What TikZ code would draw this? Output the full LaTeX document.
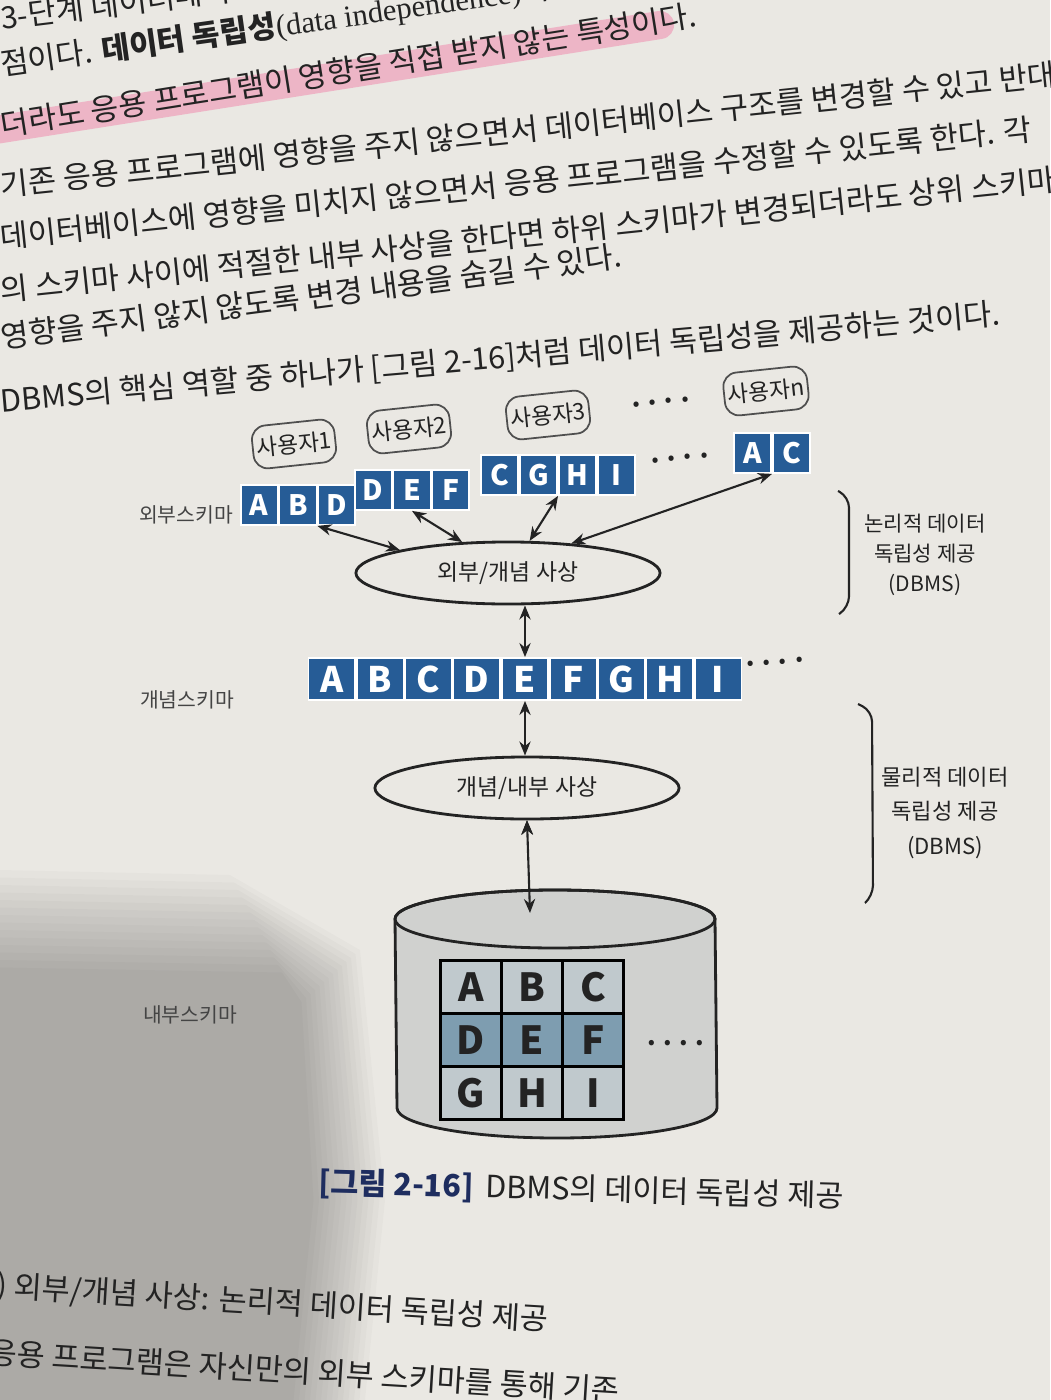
\documentclass[tikz,border=0pt]{standalone}
\usepackage{fontspec}
\setmainfont{Noto Sans CJK KR}
\newfontfamily\serifLatin{Liberation Serif}
\usetikzlibrary{matrix,arrows.meta,shapes.geometric}

\definecolor{paper}{RGB}{234,232,227}
\definecolor{ink}{RGB}{35,35,35}
\definecolor{schemablue}{RGB}{38,92,150}
\definecolor{gridlight}{RGB}{192,201,205}
\definecolor{griddark}{RGB}{126,157,176}
\definecolor{cylfill}{RGB}{208,209,207}
\definecolor{marker}{RGB}{240,140,175}
\definecolor{capnavy}{RGB}{30,45,95}

\tikzset{
  body/.style={anchor=west, inner sep=0pt, text=ink, font=\fontsize{8.7}{8.7}\selectfont},
  extcell/.style={fill=schemablue, draw=white, line width=0.5pt, text=white,
    font=\fontsize{8}{8}\selectfont\bfseries, minimum width=3.7mm, minimum height=4mm, inner sep=0pt},
  extrow/.style={matrix of nodes, transform shape, column sep=0pt, nodes={extcell}},
  concell/.style={extcell, font=\fontsize{10}{10}\selectfont\bfseries, minimum width=4.65mm, minimum height=4.2mm},
  conrow/.style={matrix of nodes, transform shape, column sep=0pt, nodes={concell}},
  tblgrid/.style={matrix of nodes, column sep=-0.8pt, row sep=-0.8pt,
    nodes={draw=black, line width=0.8pt, fill=gridlight, text=ink,
      font=\fontsize{11}{11}\selectfont\bfseries, minimum width=6.1mm, minimum height=5.3mm, inner sep=0pt},
    row 2/.style={nodes={fill=griddark}}},
  user/.style={draw=ink!80, line width=0.5pt, rounded corners=4pt, text=ink,
    font=\fontsize{6.5}{6.5}\selectfont, minimum width=8mm, minimum height=4.3mm, inner sep=1pt},
  mapping/.style={ellipse, draw=ink, line width=0.8pt, minimum width=3.04cm, minimum height=0.62cm,
    inner sep=0pt, text=ink, font=\fontsize{6.5}{6.5}\selectfont},
  schemalabel/.style={text=ink!85, font=\fontsize{5.8}{5.8}\selectfont, inner sep=0pt},
  dots/.style={text=ink, font=\fontsize{7}{7}\selectfont\bfseries, inner sep=0pt},
  sidenote/.style={align=center, text=ink, font=\fontsize{6}{8.6}\selectfont, inner sep=0pt},
  bracket/.style={draw=ink, line width=0.6pt, rounded corners=3pt},
  conn/.style={draw=ink, line width=0.6pt, {Stealth[length=4pt,width=3.2pt]}-{Stealth[length=4pt,width=3.2pt]}},
  figcap/.style={text=ink, font=\fontsize{8.7}{8.7}\selectfont, inner sep=0pt}
}

\begin{document}
\begin{tikzpicture}[x=0.01cm, y=-0.01cm]
  \fill[paper] (0,0) rectangle (1050,1400);
  \useasboundingbox (0,0) rectangle (1050,1400);
  \clip (0,0) rectangle (1050,1400);

  % soft shadow over the lower left of the page
  \foreach \k in {0,...,13}
    \fill[black, opacity=0.018] (0,870+7.5*\k) -- (230+4*\k,875+7.5*\k) -- (360-4.5*\k,950+4*\k)
      -- (385-5.5*\k,1200) -- (365-5.5*\k,1400) -- (0,1400) -- cycle;

  % page text above the figure
  \draw[marker, line width=8pt, line cap=round, opacity=0.55] (-5,130) -- (660,25);
  \node[body, rotate=7] (t1) at (0,18) {3-단계 데이터베이스};
  \node[body, rotate=8] (t2) at (0,66) {점이다. {\bfseries 데이터 독립성}{\serifLatin (data independence)}이란};
  \node[body, rotate=9] (t3) at (0,125) {더라도 응용 프로그램이 영향을 직접 받지 않는 특성이다.};
  \node[body, rotate=6] (t4) at (0,185) {기존 응용 프로그램에 영향을 주지 않으면서 데이터베이스 구조를 변경할 수 있고 반대로};
  \node[body, rotate=6] (t5) at (0,237) {데이터베이스에 영향을 미치지 않으면서 응용 프로그램을 수정할 수 있도록 한다. 각};
  \node[body, rotate=6] (t6) at (0,290) {의 스키마 사이에 적절한 내부 사상을 한다면 하위 스키마가 변경되더라도 상위 스키마};
  \node[body, rotate=7.5] (t7) at (0,337) {영향을 주지 않지 않도록 변경 내용을 숨길 수 있다.};
  \node[body, rotate=5] (t8) at (0,402) {DBMS의 핵심 역할 중 하나가 [그림 2-16]처럼 데이터 독립성을 제공하는 것이다.};

  % users and external schemas
  \node[user, rotate=6] (u1) at (294,444) {사용자1};
  \node[user, rotate=6] (u2) at (409,429) {사용자2};
  \node[user, rotate=6] (u3) at (548,415) {사용자3};
  \node[dots, rotate=6] (du) at (661,402) {. . . .};
  \node[user, rotate=6] (un) at (766,391) {사용자n};

  \node[schemalabel] (lext) at (186,515) {외부스키마};
  \matrix (e1) [extrow, rotate=6] at (298,505) {A & B & D \\};
  \matrix (e2) [extrow, rotate=6] at (412,490) {D & E & F \\};
  \matrix (e3) [extrow, rotate=6] at (558,475) {C & G & H & I \\};
  \node[dots, rotate=6] (de) at (680,458) {. . . .};
  \matrix (e4) [extrow, rotate=6] at (772,453) {A & C \\};

  \node[mapping] (extmap) at (508,573) {외부/개념 사상};

  % conceptual schema
  \node[schemalabel] (lcon) at (187,700) {개념스키마};
  \matrix (crow) [conrow, rotate=4.5] at (525,679) {A & B & C & D & E & F & G & H & I \\};
  \node[dots, rotate=4] (dc) at (775,662) {. . . .};

  \node[mapping] (intmap) at (527,788) {개념/내부 사상};

  % internal schema
  \node[schemalabel] (lint) at (190,1015) {내부스키마};
  \filldraw[fill=cylfill, draw=ink, line width=0.8pt] (395,919) -- (397,1108)
    arc[start angle=180, end angle=0, x radius=160, y radius=30] -- (715,919)
    arc[start angle=0, end angle=-180, x radius=160, y radius=29] -- cycle;
  \draw[ink, line width=0.8pt] (555,919) ellipse[x radius=160, y radius=29];
  \coordinate (dbtop) at (530,913);
  \matrix (tbl) [tblgrid] at (532,1040) {A & B & C \\ D & E & F \\ G & H & I \\};
  \node[dots] (dt) at (676,1043) {. . . .};

  \path[conn]
    (e1-1-3.south west) edge (extmap.168)
    (e2-1-2.south) edge (extmap.146)
    (e3-1-2.south east) edge (extmap.56)
    (e4-1-1.south east) edge (extmap.25)
    (extmap.south -| crow-1-5.north) edge (crow-1-5.north)
    (crow-1-5.south) edge (crow-1-5.south |- intmap.north)
    (intmap.south) edge (dbtop);

  % independence brackets
  \draw[bracket] (838,491) -- (849,497) -- (849,607) -- (839,614);
  \node[sidenote] (logic) at (925,555) {논리적 데이터\\독립성 제공\\(DBMS)};
  \draw[bracket] (858,704) -- (872,711) -- (873,896) -- (865,903);
  \node[sidenote, font=\fontsize{6.3}{9.7}\selectfont] (phys) at (945,813) {물리적 데이터\\독립성 제공\\(DBMS)};

  \node[figcap, rotate=-1.5] (cap) at (581,1190) {\textcolor{capnavy}{\bfseries [그림 2-16]}\, DBMS의 데이터 독립성 제공};

  % page text below the figure
  \node[body, rotate=-3.5] (b1) at (-4,1287) {) 외부/개념 사상: 논리적 데이터 독립성 제공};
  \node[body, rotate=-3.5] (b2) at (-12,1352) {응용 프로그램은 자신만의 외부 스키마를 통해 기존};
\end{tikzpicture}
\end{document}
